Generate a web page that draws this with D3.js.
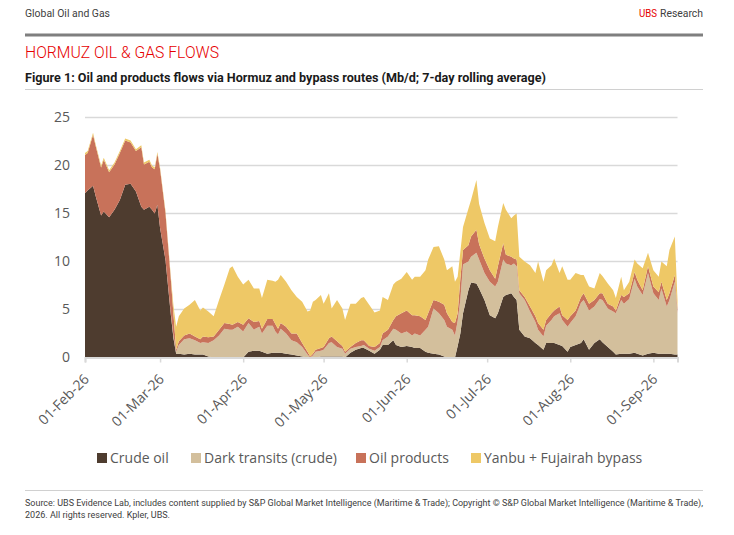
<!DOCTYPE html>
<html>
<head>
<meta charset="utf-8">
<script src="https://cdn.jsdelivr.net/npm/d3@7"></script>
<style>
  body { margin: 0; background: #fff; }
  svg { display: block; }
</style>
</head>
<body>
<svg id="chart" width="734" height="535"></svg>
<script>
// dates (2026) and flows in Mb/d
const dates = [
  "02-01","02-02","02-04","02-05","02-07","02-08","02-10","02-12","02-14","02-16",
  "02-18","02-20","02-22","02-23","02-25","02-26","02-27","02-28","03-01","03-03",
  "03-05","03-06","03-07","03-08","03-10","03-12","03-14","03-16","03-17","03-19",
  "03-21","03-23","03-25","03-27","03-28","03-30","04-01","04-03","04-05","04-07",
  "04-08","04-10","04-12","04-13","04-14","04-15","04-17","04-19","04-21","04-23",
  "04-25","04-26","04-27","04-28","04-30","05-01","05-03","05-04","05-06","05-08",
  "05-09","05-11","05-13","05-15","05-16","05-18","05-20","05-22","05-23","05-25",
  "05-27","05-28","05-30","06-01","06-03","06-04","06-06","06-08","06-09","06-11",
  "06-13","06-15","06-16","06-18","06-19","06-20","06-21","06-22","06-24","06-25",
  "06-27","06-28","06-30","07-02","07-04","07-05","07-07","07-08","07-10","07-11",
  "07-12","07-13","07-15","07-17","07-19","07-20","07-22","07-23","07-25","07-26",
  "07-28","07-29","07-31","08-01","08-03","08-05","08-06","08-08","08-10","08-12",
  "08-13","08-15","08-17","08-18","08-20","08-21","08-23","08-25","08-26","08-28",
  "08-30","09-01","09-03","09-04","09-06","09-07","09-09","09-10"
];

const crudeOil = [
  17.1,17.4,17.9,16.8,14.8,15.2,14.6,15.4,16.4,18.0,
  18.1,17.3,15.7,15.4,15.7,15.4,15.0,15.9,13.5,10.2,
  4.5,2.0,0.4,0.4,0.3,0.4,0.3,0.3,0.3,0.1,
  0,0,0,0,0,0,0,0.6,0.7,0.7,
  0.6,0.4,0.5,0.5,0.5,0.5,0.4,0.3,0.2,0.1,
  0,0,0,0,0.1,0.1,0.1,0.1,0.1,0.1,
  0,0.5,0.8,1.0,1.0,0.7,0.4,0.8,1.3,1.3,
  1.8,1.3,1.1,1.2,1.1,1.0,1.0,0.6,0.5,0.4,
  0.3,0.1,0,0,0,1.2,2.5,4.6,7.0,7.8,
  7.7,7.2,6.0,4.4,4.1,4.6,6.3,6.5,6.7,6.3,
  6.0,2.9,2.2,2.0,1.5,1.3,0.8,1.5,1.5,1.5,
  1.3,1.2,0.6,1.1,1.3,1.5,1.9,0.8,1.5,1.9,
  1.6,1.1,0.6,0.3,0.4,0.4,0.4,0.5,0.4,0.2,
  0.4,0.5,0.4,0.4,0.4,0.4,0.3,0.3
];

const darkTransits = [
  0,0,0,0,0,0,0,0,0,0,
  0,0,0,0,0,0,0,0,0,0,
  0.1,0.3,0.2,0.9,1.6,1.6,1.5,1.2,1.3,1.4,
  1.8,2.3,3.0,2.9,2.9,3.2,2.7,3.0,2.2,2.5,
  1.9,2.9,2.8,2.2,1.9,2.5,2.1,1.5,1.4,1.0,
  0.3,0,0.2,0.6,0.6,0.7,1.4,1.5,1.0,0.8,
  0.4,0.4,0.3,0.2,0.3,0.2,0.3,0.3,0.5,0.9,
  1.2,1.6,1.4,1.5,1.2,1.5,1.3,2.3,2.7,4.7,
  4.3,3.8,3.2,2.9,2.3,2.6,3.5,5.1,3.0,2.7,
  3.2,3.0,2.8,3.5,3.3,3.3,3.9,3.3,2.9,3.5,
  3.5,3.8,3.8,2.8,2.2,1.6,1.4,1.8,2.4,2.8,
  3.3,2.7,2.6,2.5,3.0,4.2,4.1,4.1,3.8,4.2,
  4.4,4.0,4.2,4.3,5.6,5.2,5.7,7.7,7.0,6.3,
  8.4,6.2,5.6,6.8,4.9,5.6,7.6,4.3
];

const oilProducts = [
  4.0,3.9,5.3,5.2,5.0,5.4,4.7,4.7,4.9,4.6,
  4.3,4.2,6.2,4.7,4.7,4.4,4.6,5.3,6.1,4.9,
  3.6,2.2,0.2,0.4,0.4,0.5,0.4,0.4,0.6,0.6,
  0.4,0.6,0.6,0.6,0.5,0.5,0.7,0.5,0.8,0.6,
  0.5,0.7,0.7,0.8,0.6,0.6,0.7,0.7,0.9,0.4,
  0.3,0.1,0.2,0.2,0.3,0.3,0.5,0.6,0.6,0.3,
  0.2,0.2,0.4,0.6,0.5,0.3,0.4,0.4,0.7,0.7,
  0.9,1.4,2.1,2.2,2.1,1.9,2.0,1.0,1.4,0.9,
  1.2,1.6,1.4,0.8,1.3,0.8,2.2,1.5,1.7,2.1,
  2.4,1.6,1.5,1.2,0.8,1.6,1.7,0.9,0.9,0.5,
  0.7,0.3,0.3,0.5,0.6,0.7,0.7,0.6,0.7,0.6,
  0.7,0.5,0.7,0.7,0.6,0.6,0.7,0.7,0.7,0.6,
  0.7,0.5,0.5,0.3,0.5,0.7,0.6,0.7,0.7,0.5,
  0.7,0.7,0.8,0.7,0.7,0.7,0.7,0.4
];

const bypass = [
  0.2,0.2,0.2,0.2,0.2,0.2,0.2,0.2,0.2,0.2,
  0.2,0.2,0.2,0.2,0.2,0.2,0.2,0.2,0.2,0.2,
  0.3,0.9,2.4,2.6,2.8,3.0,3.8,3.0,3.0,2.7,
  2.1,3.1,4.0,5.8,6.1,4.7,4.2,4.0,3.5,3.4,
  3.2,4.1,4.0,4.4,5.1,5.0,4.7,4.5,3.8,4.3,
  4.2,4.8,5.4,5.2,5.5,4.5,4.7,2.9,4.3,3.9,
  3.3,4.5,4.1,4.4,4.5,4.3,3.6,3.4,3.8,3.1,
  3.7,3.6,3.6,4.0,3.7,4.0,4.1,5.2,5.6,5.5,
  5.8,4.7,4.5,5.8,4.3,3.8,2.8,2.4,3.8,3.8,
  5.2,4.2,3.7,3.3,3.9,4.1,4.2,4.7,4.0,4.5,
  4.8,3.5,3.7,4.3,4.5,6.4,5.0,5.2,5.0,5.4,
  3.5,5.1,4.2,3.8,3.9,2.3,1.9,1.8,1.2,2.1,
  1.8,2.1,1.7,1.3,1.9,0.7,1.2,1.3,1.7,2.3,
  1.4,1.7,1.6,2.1,3.5,4.5,4.0,1.0
];

const seriesNames = ["Crude oil", "Dark transits (crude)", "Oil products", "Yanbu + Fujairah bypass"];
const seriesColors = ["#4e3c2f", "#d3bf9c", "#c8725a", "#eec866"];
const yTicks = [0, 5, 10, 15, 20, 25];
const monthTicks = ["02-01","03-01","04-01","05-01","06-01","07-01","08-01","09-01"];

const parse = d3.timeParse("%Y-%m-%d");
const rows = dates.map((d, i) => ({
  date: parse("2026-" + d),
  s0: crudeOil[i], s1: darkTransits[i], s2: oilProducts[i], s3: bypass[i]
}));

const svg = d3.select("#chart");
svg.append("rect").attr("width", 734).attr("height", 535).attr("fill", "#fff");

const narrow = "'Liberation Sans Narrow', 'Roboto', sans-serif";
const chartFont = "'Open Sans', 'Roboto', sans-serif";

// squeeze a text to the width it has in the original (condensed house font)
function fitText(sel, w) {
  sel.attr("textLength", w).attr("lengthAdjust", "spacingAndGlyphs");
  return sel;
}

// page header
fitText(svg.append("text").attr("x", 25).attr("y", 17)
  .style("font-family", narrow).style("font-size", "11.5px").attr("fill", "#404040")
  .text("Global Oil and Gas"), 85);
fitText(svg.append("text").attr("x", 703).attr("y", 17).attr("text-anchor", "end")
  .style("font-family", narrow).style("font-size", "11.5px").attr("fill", "#404040")
  .text("Research"), 43);
fitText(svg.append("text").attr("x", 657).attr("y", 17).attr("text-anchor", "end")
  .style("font-family", narrow).style("font-size", "11.5px").attr("fill", "#e60000")
  .text("UBS"), 18);
svg.append("line").attr("x1", 25).attr("x2", 703).attr("y1", 35).attr("y2", 35)
  .attr("stroke", "#7f7f7f").attr("stroke-width", 3);

fitText(svg.append("text").attr("x", 25).attr("y", 58)
  .style("font-family", narrow).style("font-size", "16.5px").style("font-weight", "300").attr("fill", "#e60000")
  .text("HORMUZ OIL & GAS FLOWS"), 194);
fitText(svg.append("text").attr("x", 25).attr("y", 82)
  .style("font-family", narrow).style("font-size", "12.5px").style("font-weight", "bold").attr("fill", "#1a1a1a")
  .text("Figure 1: Oil and products flows via Hormuz and bypass routes (Mb/d; 7-day rolling average)"), 521);
svg.append("line").attr("x1", 25).attr("x2", 703).attr("y1", 89.5).attr("y2", 89.5)
  .attr("stroke", "#d0d0d0").attr("stroke-width", 1);

// plot
const x = d3.scaleTime()
  .domain([parse("2026-02-01"), parse("2026-09-10")])
  .range([85, 677.5]);
const y = d3.scaleLinear().domain([0, 25]).range([357.5, 117.5]);

const grid = svg.append("g");
yTicks.filter(t => t > 0).forEach(t => {
  grid.append("line").attr("x1", 85).attr("x2", 677.5)
    .attr("y1", y(t)).attr("y2", y(t))
    .attr("stroke", "#d9d9d9").attr("stroke-width", 1.5);
});

const stack = d3.stack().keys(["s0", "s1", "s2", "s3"]);
const layers = stack(rows);
const area = d3.area()
  .x(d => x(d.data.date))
  .y0(d => y(d[0]))
  .y1(d => y(d[1]));

svg.append("g").selectAll("path")
  .data(layers)
  .join("path")
  .attr("d", area)
  .attr("fill", (d, i) => seriesColors[i]);

// y axis labels
const yAxis = svg.append("g").attr("transform", "translate(85,0)")
  .call(d3.axisLeft(y).tickValues(yTicks).tickSize(0).tickPadding(15));
yAxis.select(".domain").remove();
yAxis.selectAll("text")
  .style("font-family", chartFont).style("font-size", "14px").attr("fill", "#595959");

// x axis
const xAxis = svg.append("g").attr("transform", "translate(0,357.5)")
  .call(d3.axisBottom(x)
    .tickValues(monthTicks.map(m => parse("2026-" + m)))
    .tickSize(5)
    .tickFormat(d3.timeFormat("%d-%b-%y")));
xAxis.select(".domain").attr("stroke", "#d9d9d9").attr("stroke-width", 2);
xAxis.selectAll(".tick line").attr("stroke", "#d9d9d9").attr("stroke-width", 1.5);
xAxis.selectAll("text")
  .style("font-family", chartFont).style("font-size", "14px").attr("fill", "#595959")
  .attr("text-anchor", "end")
  .attr("dy", "0.35em")
  .attr("transform", "translate(1,19) rotate(-45)")
  .attr("y", 0).attr("x", 0);

// legend
const legendX = [97, 191, 356, 471];
const legend = svg.append("g");
seriesNames.forEach((name, i) => {
  legend.append("rect").attr("x", legendX[i]).attr("y", 453)
    .attr("width", 10).attr("height", 10).attr("fill", seriesColors[i]);
  legend.append("text").attr("x", legendX[i] + 13).attr("y", 463)
    .style("font-family", chartFont).style("font-size", "14px").attr("fill", "#595959")
    .text(name);
});

// footer
svg.append("line").attr("x1", 25).attr("x2", 703).attr("y1", 490.5).attr("y2", 490.5)
  .attr("stroke", "#d0d0d0").attr("stroke-width", 1);
fitText(svg.append("text").attr("x", 25).attr("y", 506)
  .style("font-family", narrow).style("font-size", "9px").attr("fill", "#404040")
  .text("Source: UBS Evidence Lab, includes content supplied by S&P Global Market Intelligence (Maritime & Trade); Copyright \u00a9 S&P Global Market Intelligence (Maritime & Trade),"), 678);
fitText(svg.append("text").attr("x", 25).attr("y", 518)
  .style("font-family", narrow).style("font-size", "9px").attr("fill", "#404040")
  .text("2026. All rights reserved. Kpler, UBS."), 145);
</script>
</body>
</html>
